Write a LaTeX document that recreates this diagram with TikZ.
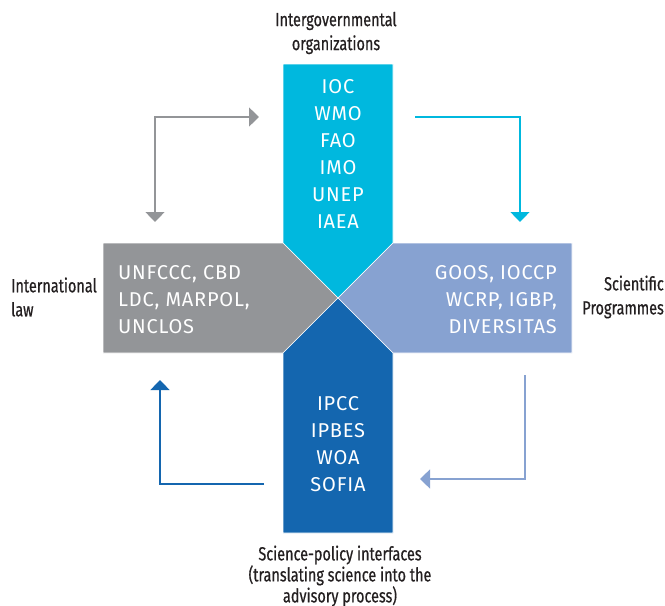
\documentclass[tikz,border=0pt]{standalone}
\usepackage{fontspec}
\setmainfont{Fira Sans}[LetterSpace=4]
\newfontfamily\condfont[FakeStretch=0.76, FakeBold=0.6]{Fira Sans}
\usepackage{xcolor}
\definecolor{cyanbox}{RGB}{0,184,222}
\definecolor{greybox}{RGB}{147,149,152}
\definecolor{lightblue}{RGB}{135,162,209}
\definecolor{darkblue}{RGB}{20,102,175}
\definecolor{labelgrey}{RGB}{35,31,32}
\usepackage{tikz}
\usetikzlibrary{arrows.meta, positioning}

\begin{document}
\begin{tikzpicture}[x=1pt, y=-1pt,
  Head/.tip={Triangle[length=10pt, width=19pt]},
  arm/.style={draw=white, line width=0.6pt},
  boxtext/.style={text=white, align=center, inner sep=0pt,
    font=\fontsize{20}{27}\selectfont},
  lbl/.style={text=labelgrey, align=center, inner sep=0pt,
    font=\condfont\fontsize{19}{24}\selectfont},
  arr/.style={-Head, line width=1.3pt},
  twoway/.style={Head-Head, line width=1.3pt}]

  \useasboundingbox (0,0) rectangle (665,606);

  \coordinate (mid) at (338,298);

  % the four arms of the cross
  \path[arm, fill=cyanbox] (283,64) -- (393,64) -- (393,243) -- (mid) -- (283,243) -- cycle;
  \path[arm, fill=greybox] (103,243) -- (283,243) -- (mid) -- (283,353) -- (103,353) -- cycle;
  \path[arm, fill=lightblue] (572,243) -- (393,243) -- (mid) -- (393,353) -- (572,353) -- cycle;
  \path[arm, fill=darkblue] (283,533) -- (283,353) -- (mid) -- (393,353) -- (393,533) -- cycle;

  \node[boxtext] (igo) at (338,154) {IOC\\WMO\\FAO\\IMO\\UNEP\\IAEA};
  \node[boxtext, anchor=west, align=left] (law) at (118,300) {UNFCCC, CBD\\LDC, MARPOL,\\UNCLOS};
  \node[boxtext, anchor=east, align=right] (sci) at (557,300) {GOOS, IOCCP\\WCRP, IGBP,\\DIVERSITAS};
  \node[boxtext] (spi) at (338,444) {IPCC\\IPBES\\WOA\\SOFIA};

  \node[lbl] (igolbl) at (336,33) {Intergovernmental\\organizations};
  \node[lbl, anchor=west, align=left] (lawlbl) at (11,297) {International\\law};
  \node[lbl, anchor=east, align=right] (scilbl) at (664,297) {Scientific\\Programmes};
  \node[lbl, font=\condfont\fontsize{19}{21}\selectfont] (spilbl) at (340,576) {Science-policy interfaces\\(translating science into the\\advisory process)};

  % feedback loops
  \coordinate (g1) at (155,222);
  \coordinate (g2) at (259,117);
  \coordinate (c1) at (415,117);
  \coordinate (c2) at (520,222);
  \coordinate (l1) at (525,375);
  \coordinate (l2) at (420,479);
  \coordinate (d1) at (264,484);
  \coordinate (d2) at (160,380);

  \draw[twoway, greybox] (g1) |- (g2);
  \draw[arr, cyanbox] (c1) -| (c2);
  \draw[arr, lightblue] (l1) |- (l2);
  \draw[arr, darkblue] (d1) -| (d2);

\end{tikzpicture}
\end{document}
